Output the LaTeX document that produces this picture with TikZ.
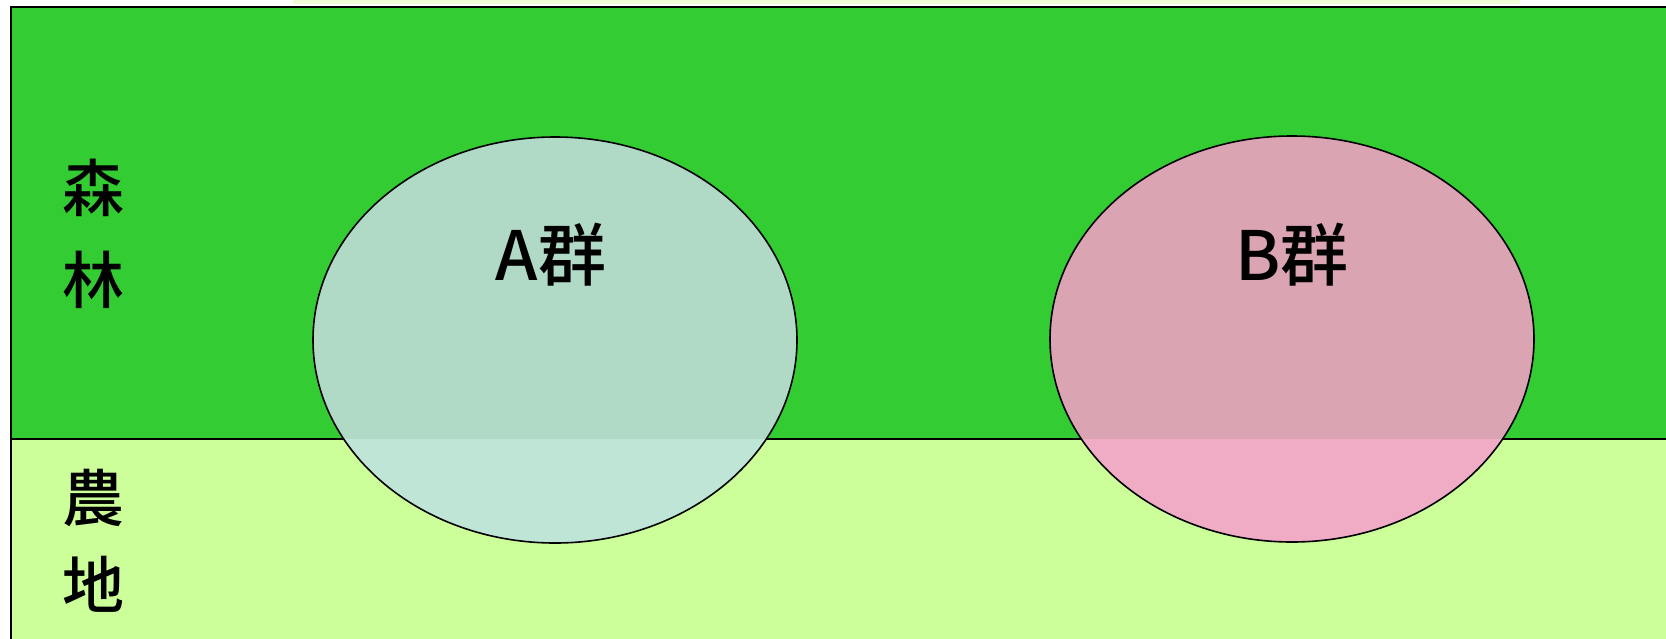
\documentclass[tikz,border=0pt]{standalone}
\usepackage{fontspec}
\newfontfamily\cjk{Noto Sans CJK JP}[BoldFont={Noto Sans CJK JP Medium}]
\definecolor{forest}{RGB}{51,204,51}
\definecolor{farm}{RGB}{204,255,153}
\definecolor{paleband}{RGB}{240,252,216}
\definecolor{aup}{RGB}{176,218,198}
\definecolor{alow}{RGB}{190,229,214}
\definecolor{bup}{RGB}{218,164,178}
\definecolor{blow}{RGB}{240,172,196}
\tikzset{
  zone/.style={draw=black, line width=2.6pt},
  grp/.style={draw=black, line width=1.6pt},
  lbl/.style={font=\cjk\fontsize{62}{66}\selectfont, inner sep=0pt},
  glbl/.style={font=\cjk\fontsize{68}{72}\selectfont, inner sep=0pt}
}
\begin{document}
\begin{tikzpicture}[x=1pt,y=-1pt]
\useasboundingbox (0,0) rectangle (1666,638);
\fill[white] (0,0) rectangle (1666,638);
\fill[paleband] (293,0) rectangle (1520,4);
% zones
\fill[forest] (11,7) rectangle (1672,439);
\fill[farm] (11,439) rectangle (1672,645);
\draw[zone] (1672,7) -- (11,7) -- (11,645);
\draw[zone] (11,439) -- (1672,439);
% group A
\begin{scope}
  \clip (555,340) ellipse [x radius=242, y radius=203];
  \fill[aup] (300,100) rectangle (810,439);
  \fill[alow] (300,439) rectangle (810,560);
\end{scope}
\draw[grp] (555,340) ellipse [x radius=242, y radius=203];
\node (ga) [circle, minimum size=1pt, inner sep=0pt] at (555,340) {};
% group B
\begin{scope}
  \clip (1292,339) ellipse [x radius=242, y radius=203];
  \fill[bup] (1040,100) rectangle (1550,439);
  \fill[blow] (1040,439) rectangle (1550,560);
\end{scope}
\draw[grp] (1292,339) ellipse [x radius=242, y radius=203];
\node (gb) [circle, minimum size=1pt, inner sep=0pt] at (1292,339) {};
% labels
\node[glbl] (ta) at (551,255) {\bfseries A群};
\node[glbl] (tb) at (1292,255) {\bfseries B群};
\node[lbl] (s1) at (93,188) {\bfseries 森};
\node[lbl] (s2) at (93,280) {\bfseries 林};
\node[lbl] (n1) at (93,498) {\bfseries 農};
\node[lbl] (n2) at (93,584) {\bfseries 地};
\end{tikzpicture}
\end{document}
